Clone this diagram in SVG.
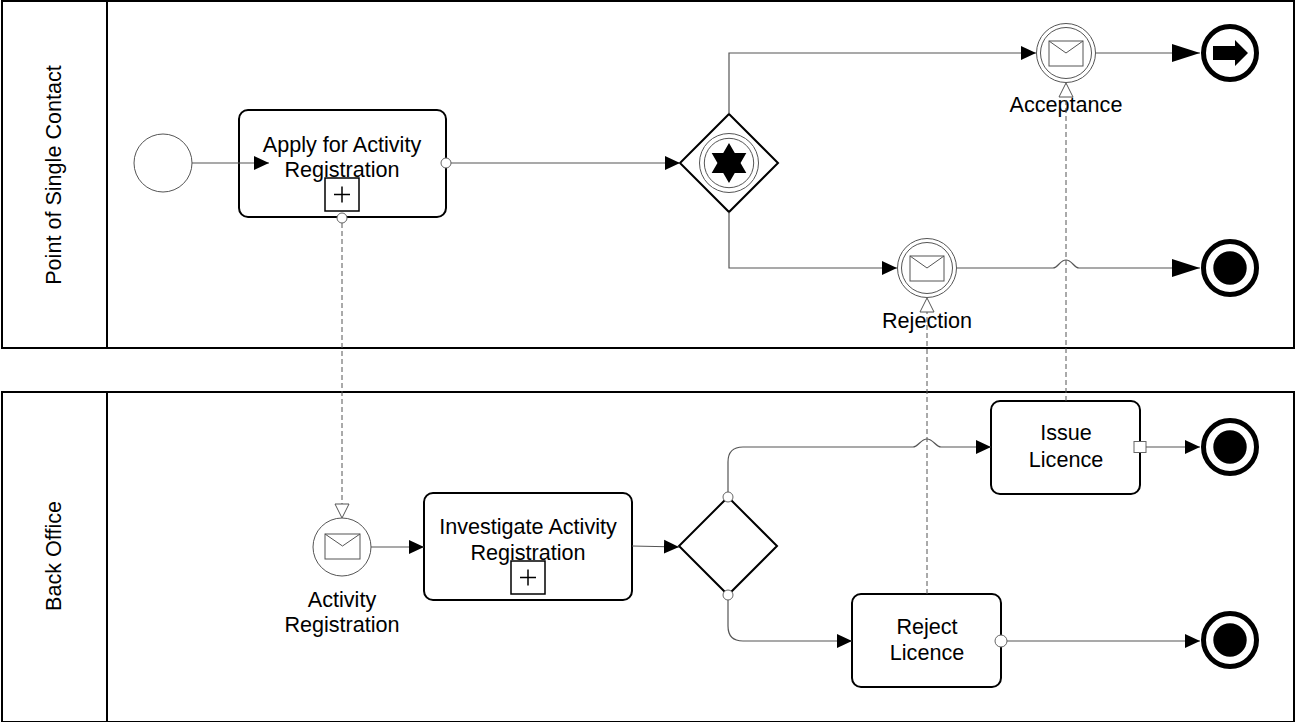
<svg xmlns="http://www.w3.org/2000/svg" width="1296" height="722" viewBox="0 0 1296 722">
<style>
.pool{fill:none;stroke:#000;stroke-width:2}
.task{fill:#fff;stroke:#000;stroke-width:2}
.ev{fill:#fff;stroke:#555;stroke-width:1}
.end{fill:#fff;stroke:#000;stroke-width:5}
.gw{fill:#fff;stroke:#000;stroke-width:2}
.flow{fill:none;stroke:#555;stroke-width:1.2}
.msg{fill:none;stroke:#555;stroke-width:1;stroke-dasharray:5 3}
.port{fill:#fff;stroke:#666;stroke-width:1}
.t{font-family:"Liberation Sans",Arial,sans-serif;font-size:21.6px;fill:#000;text-anchor:middle}
.mk{fill:#fff;stroke:#000;stroke-width:1.5}
</style>
<defs>
<marker id="a" markerUnits="userSpaceOnUse" markerWidth="15" markerHeight="15" refX="15" refY="7" orient="auto" viewBox="0 0 15 14"><path d="M0,0 L15,7 L0,14 Z" fill="#000"/></marker>
<marker id="A" markerUnits="userSpaceOnUse" markerWidth="28" markerHeight="18" refX="28" refY="9" orient="auto" viewBox="0 0 28 18"><path d="M0,0 L28,9 L0,18 Z" fill="#000"/></marker>
<marker id="m" markerUnits="userSpaceOnUse" markerWidth="16" markerHeight="16" refX="15" refY="8" orient="auto" viewBox="0 0 16 16"><path d="M1,1 L15,8 L1,15 Z" fill="#fff" stroke="#555" stroke-width="1"/></marker>
</defs>

<g id="pool-psc">
<rect class="pool" x="2" y="1" width="1292" height="347"/>
<line class="pool" x1="107" y1="1" x2="107" y2="348"/>
<text class="t" transform="translate(61,175) rotate(-90)">Point of Single Contact</text>
</g>
<g id="pool-bo">
<rect class="pool" x="2" y="392" width="1292" height="330"/>
<line class="pool" x1="107" y1="392" x2="107" y2="722"/>
<text class="t" transform="translate(61,556) rotate(-90)">Back Office</text>
</g>

<g id="start">
<circle class="ev" cx="163" cy="163" r="29"/>
</g>

<g id="task-apply">
<rect class="task" x="239" y="110" width="207" height="107" rx="9"/>
<text class="t" x="342" y="152">Apply for Activity</text>
<text class="t" x="342" y="177">Registration</text>
<rect class="mk" x="325" y="178" width="34" height="33"/>
<path d="M334,194.5 H350 M342,186.5 V202.5" stroke="#000" stroke-width="1.5"/>
<circle class="port" cx="446" cy="163" r="5"/>
<circle class="port" cx="342" cy="218" r="5"/>
</g>

<g id="gw-event">
<polygon class="gw" points="729,114 778,163 729,212 680,163"/>
<circle cx="729" cy="163" r="29.5" fill="none" stroke="#555" stroke-width="1"/>
<circle cx="729" cy="163" r="24.7" fill="none" stroke="#555" stroke-width="1"/>
<path d="M729,143 L734.77,153 L746.32,153 L740.55,163 L746.32,173 L734.77,173 L729,183 L723.23,173 L711.68,173 L717.45,163 L711.68,153 L723.23,153 Z" fill="#000"/>
</g>

<g id="ev-acceptance">
<circle class="ev" cx="1066" cy="53" r="29.5"/>
<circle class="ev" cx="1066" cy="53" r="25.5"/>
<rect x="1049" y="41" width="34" height="25" fill="#fff" stroke="#555" stroke-width="1"/>
<path d="M1049,41 L1066,53 L1083,41" fill="none" stroke="#555" stroke-width="1"/>
<text class="t" x="1066" y="112">Acceptance</text>
</g>

<g id="ev-rejection">
<circle class="ev" cx="927" cy="268" r="29.5"/>
<circle class="ev" cx="927" cy="268" r="25.5"/>
<rect x="910" y="256" width="34" height="25" fill="#fff" stroke="#555" stroke-width="1"/>
<path d="M910,256 L927,268 L944,256" fill="none" stroke="#555" stroke-width="1"/>
<text class="t" x="927" y="328">Rejection</text>
</g>

<g id="end-link">
<circle class="end" cx="1230" cy="53" r="26.5"/>
<path d="M1213,46 L1235,46 L1235,40 L1248,53 L1235,66 L1235,60 L1213,60 Z" fill="#000"/>
</g>

<g id="end-rejected">
<circle class="end" cx="1230" cy="268" r="26.5"/>
<circle cx="1230" cy="268" r="16.7" fill="#000"/>
</g>

<g id="ev-activity-registration">
<circle class="ev" cx="342" cy="547" r="29"/>
<rect x="325" y="534" width="35" height="25" fill="#fff" stroke="#555" stroke-width="1"/>
<path d="M325,534 L342.5,546 L360,534" fill="none" stroke="#555" stroke-width="1"/>
<text class="t" x="342" y="607">Activity</text>
<text class="t" x="342" y="632">Registration</text>
</g>

<g id="task-investigate">
<rect class="task" x="424" y="493" width="208" height="107" rx="9"/>
<text class="t" x="528" y="534">Investigate Activity</text>
<text class="t" x="528" y="560">Registration</text>
<rect class="mk" x="511" y="561" width="34" height="33"/>
<path d="M520,577.5 H536 M528,569.5 V585.5" stroke="#000" stroke-width="1.5"/>
</g>

<g id="gw-decision">
<polygon class="gw" points="728,497 777,546 728,595 679,546"/>
<circle class="port" cx="728" cy="497" r="5"/>
<circle class="port" cx="728" cy="595" r="5"/>
</g>

<g id="task-issue">
<rect class="task" x="991" y="401" width="149" height="93" rx="9"/>
<text class="t" x="1066" y="440">Issue</text>
<text class="t" x="1066" y="467">Licence</text>
<rect class="port" x="1134" y="441.5" width="12" height="11"/>
</g>

<g id="end-issued">
<circle class="end" cx="1230" cy="447" r="26.5"/>
<circle cx="1230" cy="447" r="16.7" fill="#000"/>
</g>

<g id="task-reject">
<rect class="task" x="852" y="594" width="149" height="93" rx="9"/>
<text class="t" x="927" y="634">Reject</text>
<text class="t" x="927" y="660">Licence</text>
<circle class="port" cx="1001" cy="641" r="6"/>
</g>

<g id="end-rejected-bo">
<circle class="end" cx="1230" cy="640" r="26.5"/>
<circle cx="1230" cy="640" r="16.7" fill="#000"/>
</g>

<g id="connectors">
<line class="flow" x1="192" y1="163" x2="269" y2="163" marker-end="url(#a)"/>
<line class="flow" x1="451" y1="163" x2="680" y2="163" marker-end="url(#a)"/>
<path class="flow" d="M729,114 L729,53 L1036,53" marker-end="url(#a)"/>
<path class="flow" d="M729,212 L729,268 L897,268" marker-end="url(#a)"/>
<line class="flow" x1="1096" y1="53" x2="1200" y2="53" marker-end="url(#A)"/>
<path class="flow" d="M957,268 L1053,268 C1058,268 1060,260 1066,260 C1072,260 1074,268 1079,268 L1200,268" marker-end="url(#A)"/>
<line class="flow" x1="371" y1="547" x2="424" y2="547" marker-end="url(#a)"/>
<line class="flow" x1="632" y1="546" x2="679" y2="547" marker-end="url(#a)"/>
<path class="flow" d="M728,492 L728,462 Q728,447 743,447 L913,447 C918,447 921,439 927,439 C933,439 936,447 941,447 L991,447" marker-end="url(#a)"/>
<path class="flow" d="M728,600 L728,626 Q728,641 743,641 L852,641" marker-end="url(#a)"/>
<line class="flow" x1="1146" y1="447" x2="1200" y2="447" marker-end="url(#a)"/>
<line class="flow" x1="1007" y1="641" x2="1200" y2="641" marker-end="url(#a)"/>
<line class="msg" x1="342" y1="223" x2="342" y2="518" marker-end="url(#m)"/>
<line class="msg" x1="1066" y1="401" x2="1066" y2="83" marker-end="url(#m)"/>
<line class="msg" x1="927" y1="594" x2="927" y2="298" marker-end="url(#m)"/>
</g>
</svg>
